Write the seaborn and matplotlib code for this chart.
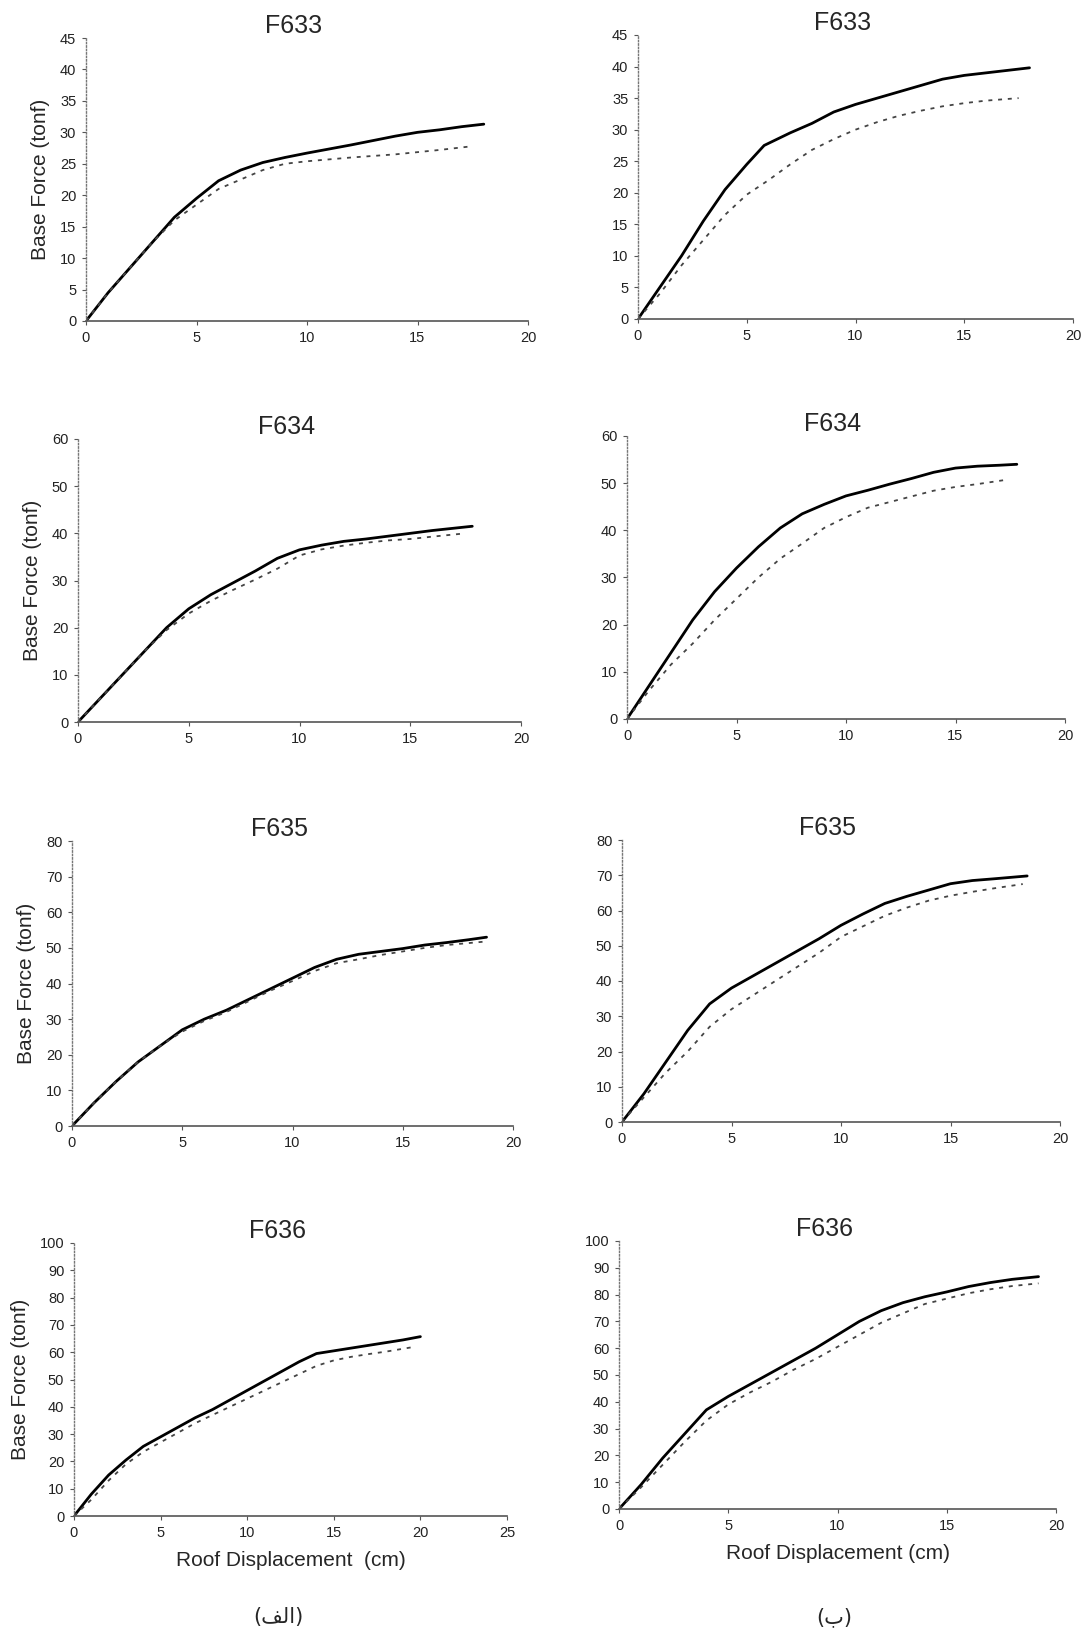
import numpy as np
import pandas as pd
import seaborn as sns
import matplotlib.pyplot as plt

# ---------------- datos (desplazamiento cm, fuerza tonf) ----------------
# columna (الف)
f633a_x_solid = [0, 1, 2, 3, 4, 5, 6, 7, 8, 9, 10, 12, 13, 14, 15, 16, 17, 18]
f633a_y_solid = [0, 4.5, 8.5, 12.5, 16.5, 19.5, 22.3, 24, 25.2, 26, 26.7, 28, 28.7, 29.4, 30, 30.4, 30.9, 31.3]
f633a_x_dash = [0, 1, 2, 3, 4, 5, 6, 7, 8, 9, 10, 12, 14, 16, 17.5]
f633a_y_dash = [0, 4.5, 8.5, 12.5, 16, 18.5, 21, 22.5, 24, 25, 25.4, 26, 26.5, 27.2, 27.8]

f634a_x_solid = [0, 1, 2, 3, 4, 5, 6, 7, 8, 9, 10, 11, 12, 13, 14, 15, 16, 17, 17.8]
f634a_y_solid = [0, 5, 10, 15, 20, 24, 27, 29.5, 32, 34.7, 36.5, 37.5, 38.3, 38.8, 39.4, 40, 40.6, 41.1, 41.5]
f634a_x_dash = [0, 1, 2, 3, 4, 5, 6, 7, 8, 9, 10, 11, 12, 13, 14, 15, 16, 17.5]
f634a_y_dash = [0, 5, 10, 15, 19.5, 23, 25.7, 28, 30.2, 32.5, 35.3, 36.6, 37.4, 38, 38.5, 38.8, 39.3, 40]

f635a_x_solid = [0, 1, 2, 3, 4, 5, 6, 7, 8, 9, 10, 11, 12, 13, 14, 15, 16, 17, 18, 18.8]
f635a_y_solid = [0, 6.5, 12.5, 18, 22.5, 27, 30, 32.5, 35.5, 38.5, 41.5, 44.5, 46.8, 48.2, 49, 49.8, 50.8, 51.5, 52.3, 53]
f635a_x_dash = [0, 1, 2, 3, 4, 5, 6, 7, 8, 9, 10, 11, 12, 13, 14, 15, 16, 17, 18.8]
f635a_y_dash = [0, 6.5, 12.5, 18, 22.5, 26.5, 29.5, 32, 35, 38, 40.7, 43.5, 45.7, 46.8, 48, 49, 50, 50.8, 51.8]

f636a_x_solid = [0, 1, 2, 3, 4, 5, 6, 7, 8, 9, 10, 11, 12, 13, 14, 15, 16, 17, 18, 19, 20]
f636a_y_solid = [0, 8, 15, 20.5, 25.5, 29, 32.5, 36, 39, 42.5, 46, 49.5, 53, 56.5, 59.5, 60.5, 61.5, 62.5, 63.5, 64.5, 65.7]
f636a_x_dash = [0, 1, 2, 3, 4, 5, 6, 7, 8, 9, 10, 11, 12, 13, 14, 15, 16, 17, 18, 19.5]
f636a_y_dash = [0, 6, 13, 19, 23.5, 27, 30.5, 34, 37, 40, 43, 46, 49, 52, 55, 57, 58.3, 59.3, 60.2, 61.8]

# columna (ب)
f633b_x_solid = [0, 1, 2, 3, 4, 5, 5.8, 7, 8, 9, 10, 11, 12, 13, 14, 15, 16, 17, 18]
f633b_y_solid = [0, 5, 10, 15.5, 20.5, 24.5, 27.5, 29.5, 31, 32.8, 34, 35, 36, 37, 38, 38.6, 39, 39.4, 39.8]
f633b_x_dash = [0, 1, 2, 3, 4, 5, 6, 7, 8, 9, 10, 11, 12, 13, 14, 15, 16, 17.5]
f633b_y_dash = [0, 4, 8.5, 12.5, 16.5, 19.7, 22, 24.5, 26.8, 28.5, 30, 31.2, 32.2, 33, 33.7, 34.2, 34.6, 35]

f634b_x_solid = [0, 1, 2, 3, 4, 5, 6, 7, 8, 9, 10, 11, 12, 13, 14, 15, 16, 17, 17.8]
f634b_y_solid = [0, 7, 14, 21, 27, 32, 36.5, 40.5, 43.5, 45.5, 47.3, 48.5, 49.8, 51, 52.3, 53.2, 53.6, 53.8, 54]
f634b_x_dash = [0, 1, 2, 3, 4, 5, 6, 7, 8, 9, 10, 11, 12, 13, 14, 15, 16, 17.3]
f634b_y_dash = [0, 6, 11.5, 16, 21, 25.5, 30, 34, 37.2, 40.5, 42.8, 44.8, 46, 47.2, 48.4, 49.2, 49.8, 50.7]

f635b_x_solid = [0, 1, 2, 3, 4, 5, 6, 7, 8, 9, 10, 11, 12, 13, 14, 15, 16, 17, 18.5]
f635b_y_solid = [0, 8, 17, 26, 33.5, 38, 41.5, 45, 48.5, 52, 55.8, 59, 62, 64, 65.8, 67.6, 68.5, 69, 69.8]
f635b_x_dash = [0, 1, 2, 3, 4, 5, 6, 7, 8, 9, 10, 11, 12, 13, 14, 15, 16, 17, 18.3]
f635b_y_dash = [0, 7, 14, 20, 27, 32, 36, 40, 44, 48, 52.5, 55.5, 58.5, 60.8, 62.8, 64.2, 65.3, 66.3, 67.5]

f636b_x_solid = [0, 1, 2, 3, 4, 5, 6, 7, 8, 9, 10, 11, 12, 13, 14, 15, 16, 17, 18, 19.2]
f636b_y_solid = [0, 9, 19, 28, 37, 42, 46.5, 51, 55.5, 60, 65, 70, 74, 77, 79.2, 81, 83, 84.5, 85.7, 86.7]
f636b_x_dash = [0, 1, 2, 3, 4, 5, 6, 7, 8, 9, 10, 11, 12, 13, 14, 15, 16, 17, 18, 19.2]
f636b_y_dash = [0, 8, 16.5, 25, 33, 39, 43.5, 47.5, 52, 56, 60.5, 65, 69.5, 73, 76.5, 78.5, 80.5, 82, 83.2, 84.2]

titles = ['F633', 'F634', 'F635', 'F636']
y_max = [45, 60, 80, 100]
y_step = [5, 10, 10, 10]
x_max_a = [20, 20, 20, 25]
x_max_b = [20, 20, 20, 20]

panels_a = [(f633a_x_solid, f633a_y_solid, f633a_x_dash, f633a_y_dash),
            (f634a_x_solid, f634a_y_solid, f634a_x_dash, f634a_y_dash),
            (f635a_x_solid, f635a_y_solid, f635a_x_dash, f635a_y_dash),
            (f636a_x_solid, f636a_y_solid, f636a_x_dash, f636a_y_dash)]
panels_b = [(f633b_x_solid, f633b_y_solid, f633b_x_dash, f633b_y_dash),
            (f634b_x_solid, f634b_y_solid, f634b_x_dash, f634b_y_dash),
            (f635b_x_solid, f635b_y_solid, f635b_x_dash, f635b_y_dash),
            (f636b_x_solid, f636b_y_solid, f636b_x_dash, f636b_y_dash)]

# ---------------- estilo ----------------
sns.set_style('ticks')
plt.rcParams['font.family'] = ['Liberation Sans', 'DejaVu Sans']

W, H = 1088, 1634
fig = plt.figure(figsize=(W / 100, H / 100), dpi=100)

# cajas de ejes en pixeles: left, right, bottom, top
boxes_a = [(86, 528, 321, 38), (78, 521, 722, 439), (72, 513, 1126, 841), (74, 507, 1516, 1243)]
boxes_b = [(638, 1073, 319, 35), (627, 1065, 719, 436), (622, 1060, 1122, 840), (619, 1056, 1509, 1241)]


def draw_panel(box, data, title, ymax, ystep, xmax, ylabel, xlabel):
    l, r, b, t = box
    ax = fig.add_axes([l / W, 1 - b / H, (r - l) / W, (b - t) / H])
    xs, ys, xd, yd = data
    sns.lineplot(x=xs, y=ys, ax=ax, color='black', linewidth=2.0, sort=False)
    sns.lineplot(x=xd, y=yd, ax=ax, color='#444444', linewidth=1.3, sort=False,
                 linestyle=(0, (2.2, 3.2)))
    ax.set_xlim(0, xmax)
    ax.set_ylim(0, ymax)
    ax.set_xticks(np.arange(0, xmax + 1, 5))
    ax.set_yticks(np.arange(0, ymax + 1, ystep))
    ax.tick_params(axis='both', labelsize=10.5, length=3, width=0.8, color='#555555', pad=4,
                   labelcolor='#222222')
    for s in ['top', 'right']:
        ax.spines[s].set_visible(False)
    ax.spines['left'].set_linestyle((0, (1, 1.5)))
    ax.spines['left'].set_color('#777777')
    ax.spines['left'].set_linewidth(1.0)
    ax.spines['bottom'].set_color('#555555')
    ax.spines['bottom'].set_linewidth(1.2)
    ax.set_title(title, fontsize=18, x=0.47, pad=3)
    if ylabel:
        ax.set_ylabel('Base Force (tonf)', fontsize=15, labelpad=7)
    else:
        ax.set_ylabel('')
    if xlabel:
        ax.set_xlabel(xlabel, fontsize=15, labelpad=8)
    else:
        ax.set_xlabel('')
    return ax


for i in range(4):
    draw_panel(boxes_a[i], panels_a[i], titles[i], y_max[i], y_step[i], x_max_a[i],
               True, 'Roof Displacement  (cm)' if i == 3 else None)
    draw_panel(boxes_b[i], panels_b[i], titles[i], y_max[i], y_step[i], x_max_b[i],
               False, 'Roof Displacement (cm)' if i == 3 else None)

# matplotlib no da forma al arabe: se escribe en formas de presentacion y en orden visual
fig.text(278 / W, 1 - 1617 / H, '(\ufed2\ufedf\u0627)', ha='center', va='center',
         fontsize=15, family=['DejaVu Sans'])
fig.text(834 / W, 1 - 1617 / H, '(\u0628)', ha='center', va='center',
         fontsize=15, family=['DejaVu Sans'])

fig.savefig('out.png', dpi=100)
